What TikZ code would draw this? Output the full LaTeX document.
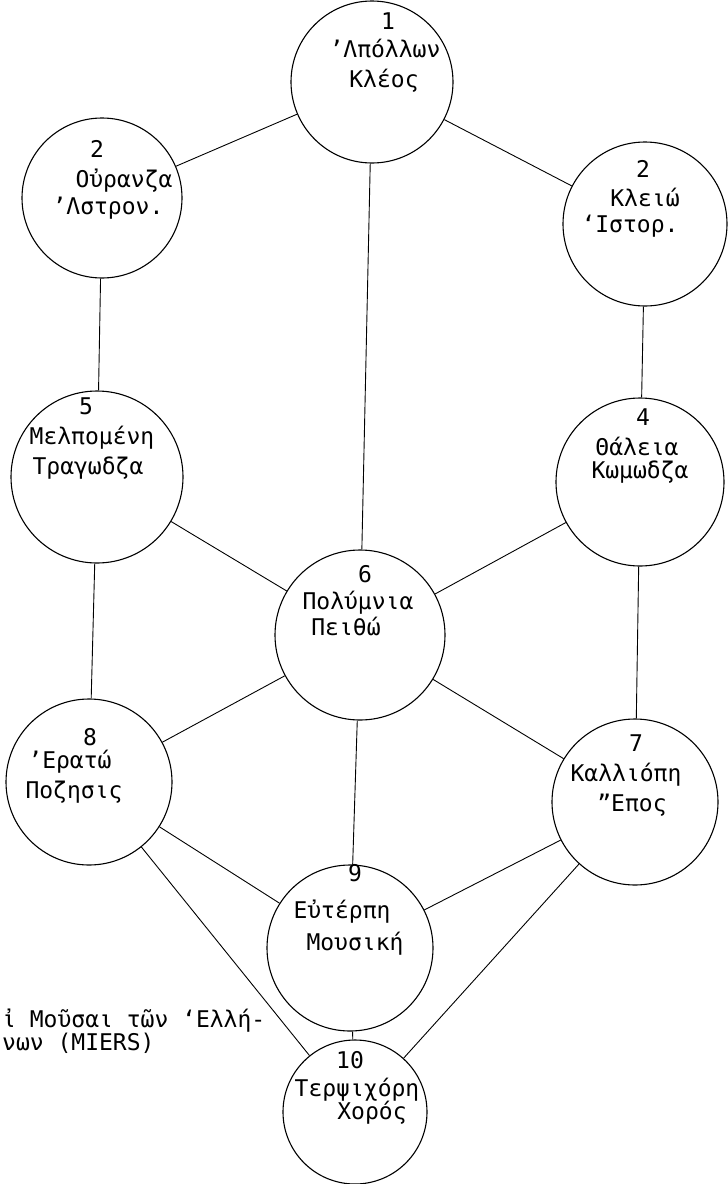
\documentclass[tikz,border=0pt]{standalone}
\usepackage{fontspec}
\setmonofont{DejaVu Sans Mono}
\usepackage{tikz}

\begin{document}
\begin{tikzpicture}[x=1pt, y=-1pt,
    muse/.style={circle, draw, line width=1.1pt, inner sep=0pt},
    txt/.style={font=\ttfamily\fontsize{23}{28}\selectfont, inner sep=0pt, anchor=mid},
    link/.style={line width=0.9pt}]
    \useasboundingbox (0,0) rectangle (728,1184);

    % the ten circles
    \node[muse, minimum size=162pt] (apollon) at (372,82) {};
    \node[muse, minimum size=160pt] (urania) at (102,198) {};
    \node[muse, minimum size=164pt] (kleio) at (645,224) {};
    \node[muse, minimum size=172pt] (melpomene) at (97,477) {};
    \node[muse, minimum size=168pt] (thaleia) at (640,482) {};
    \node[muse, minimum size=170pt] (polymnia) at (360,635) {};
    \node[muse, minimum size=166pt] (erato) at (89,782) {};
    \node[muse, minimum size=166pt] (kalliope) at (635,802) {};
    \node[muse, minimum size=166pt] (euterpe) at (350,948) {};
    \node[muse, minimum size=144pt] (terpsichore) at (355,1112) {};

    \draw[link] (apollon) -- (urania);
    \draw[link] (apollon) -- (kleio);
    \draw[link] (apollon) -- (polymnia);
    \draw[link] (urania) -- (melpomene);
    \draw[link] (kleio) -- (thaleia);
    \draw[link] (melpomene) -- (polymnia);
    \draw[link] (thaleia) -- (polymnia);
    \draw[link] (melpomene) -- (erato);
    \draw[link] (thaleia) -- (kalliope);
    \draw[link] (polymnia) -- (erato);
    \draw[link] (polymnia) -- (kalliope);
    \draw[link] (polymnia) -- (euterpe);
    \draw[link] (erato) -- (euterpe);
    \draw[link] (kalliope) -- (euterpe);
    \draw[link] (erato) -- (terpsichore);
    \draw[link] (kalliope) -- (terpsichore);
    \draw[link] (euterpe) -- (terpsichore);

    % names inside the circles
    \node[txt] (apollon-nr) at (388,27) {1};
    \node[txt] (apollon-a) at (385,55) {’Λπόλλων};
    \node[txt] (apollon-b) at (384,85) {Κλέος};

    \node[txt] (urania-nr) at (97,155) {2};
    \node[txt] (urania-a) at (124,185) {Οὐρανζα};
    \node[txt] (urania-b) at (108,212) {’Λστρον.};

    \node[txt] (kleio-nr) at (643,175) {2};
    \node[txt] (kleio-a) at (645,204) {Κλειώ};
    \node[txt] (kleio-b) at (630,230) {‘Ιστορ.};

    \node[txt] (melpomene-nr) at (86,412) {5};
    \node[txt] (melpomene-a) at (92,442) {Μελπομένη};
    \node[txt] (melpomene-b) at (88,472) {Τραγωδζα};

    \node[txt] (thaleia-nr) at (643,423) {4};
    \node[txt] (thaleia-a) at (637,453) {Θάλεια};
    \node[txt] (thaleia-b) at (640,476) {Κωμωδζα};

    \node[txt] (polymnia-nr) at (365,580) {6};
    \node[txt] (polymnia-a) at (358,607) {Πολύμνια};
    \node[txt] (polymnia-b) at (346,633) {Πειθώ};

    \node[txt] (erato-nr) at (90,743) {8};
    \node[txt] (erato-a) at (70,766) {’Ερατώ};
    \node[txt] (erato-b) at (74,796) {Ποζησις};

    \node[txt] (kalliope-nr) at (636,749) {7};
    \node[txt] (kalliope-a) at (626,779) {Καλλιόπη};
    \node[txt] (kalliope-b) at (632,809) {”Επος};

    \node[txt] (euterpe-nr) at (355,879) {9};
    \node[txt] (euterpe-a) at (342,916) {Εὐτέρπη};
    \node[txt] (euterpe-b) at (355,948) {Μουσική};

    \node[txt] (terpsichore-nr) at (350,1066) {10};
    \node[txt] (terpsichore-a) at (357,1094) {Τερψιχόρη};
    \node[txt] (terpsichore-b) at (372,1117) {Χορός};

    % caption, cut at the left edge
    \node[txt, anchor=mid west] (caption-a) at (2,1025) {ἰ Μοῦσαι τῶν ‘Ελλή-};
    \node[txt, anchor=mid west] (caption-b) at (2,1048) {νων (MIERS)};
\end{tikzpicture}
\end{document}
